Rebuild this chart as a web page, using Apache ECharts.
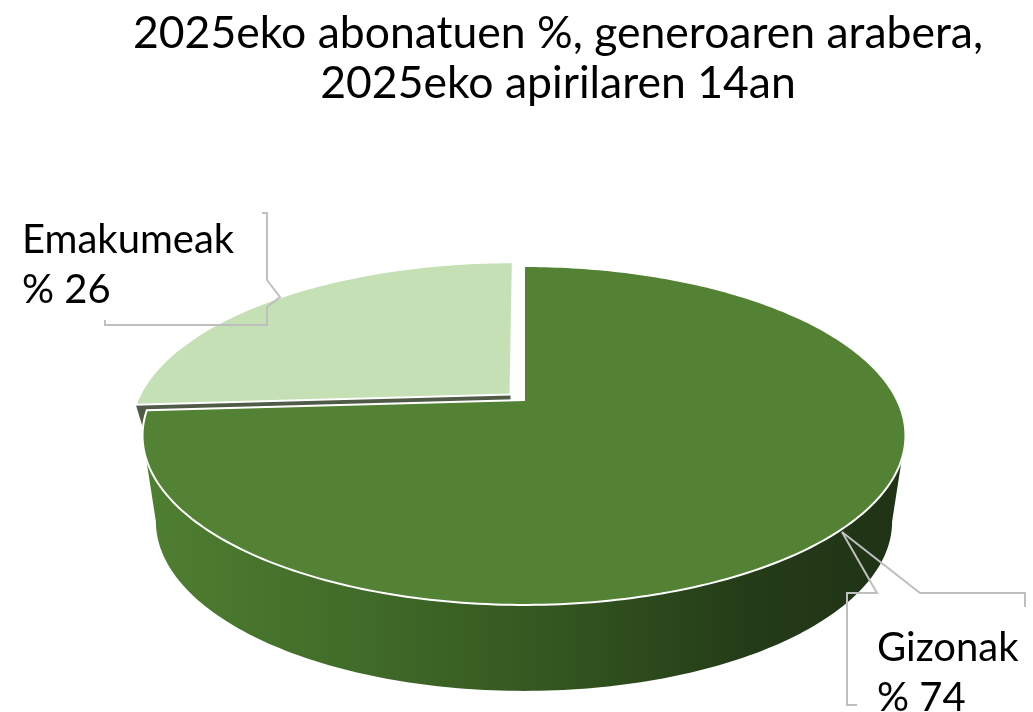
<!DOCTYPE html>
<html>
<head>
<meta charset="utf-8">
<script src="https://cdn.jsdelivr.net/npm/echarts@6/dist/echarts.min.js"></script>
<style>
html, body { margin: 0; padding: 0; background: #fff; }
#chart { width: 1033px; height: 712px; }
</style>
</head>
<body>
<div id="chart"></div>
<script>
// data (excel order: first slice starts at 12 o'clock, clockwise)
const categories = ['Gizonak', 'Emakumeak'];
const shares = [74, 26];
const titleText = '2025eko abonatuen %, generoaren arabera,\n2025eko apirilaren 14an';

// 3d look, excel style
const topColors = ['#548235', '#c5e0b4'];
const faceColors = ['#2c461c', '#4f5a47'];
const explode = [0, 0.05];
const CX = 524, CY = 400, RX = 373, RY = 162, PERSP = -0.2094, DEPTH = 86;
const BOTTOM_SHRINK = 0.965; // lower rim is a bit narrower (looking down)
const FACE_TAPER = 0.035;    // cut faces narrow towards the bottom
const FONT = 'Lato';

// label boxes (manual positions like in the workbook)
const labelPos = [[877, 623], [22, 215]];
const calloutLines = [
  [[[842, 532], [877, 593], [847, 593], [847, 705], [857, 705]],
   [[842, 532], [920, 593], [1025, 593], [1025, 607]]],
  [[[262, 213], [267, 213], [267, 280], [280, 297], [267, 307], [267, 325], [105, 325], [105, 320]]]
];

const total = shares.reduce((a, b) => a + b, 0);
const rad = d => d * Math.PI / 180;
// visible part of the outer wall (between left and right silhouette)
const phiR = Math.acos(PERSP) * 180 / Math.PI;
const phiL = 360 - phiR;

function proj(X, Y, h) {
  const s = 1 / (1 + PERSP * Y);
  const k = h ? BOTTOM_SHRINK : 1;
  return [CX + RX * X * s * k, CY + RY * Y * s + (h || 0)];
}

const wallFill = {
  type: 'linear', x: 145, y: 0, x2: 905, y2: 0, global: true,
  colorStops: [
    { offset: 0, color: '#4f7f31' },
    { offset: 0.3, color: '#406a28' },
    { offset: 0.55, color: '#335520' },
    { offset: 0.8, color: '#243b18' },
    { offset: 1, color: '#1f3315' }
  ]
};

function renderSlice(params, api) {
  const i = params.dataIndex;
  let start = 0;
  for (let k = 0; k < i; k++) start += shares[k] / total * 360;
  const end = start + api.value(0) / total * 360;
  const mid = rad((start + end) / 2);
  const ox = Math.sin(mid) * explode[i];
  const oy = -Math.cos(mid) * explode[i];

  const rim = (deg, h) => proj(ox + Math.sin(rad(deg)), oy - Math.cos(rad(deg)), h);
  const arc = (a, b, h) => {
    const pts = [];
    const n = Math.max(2, Math.ceil(Math.abs(b - a)));
    for (let j = 0; j <= n; j++) pts.push(rim(a + (b - a) * j / n, h));
    return pts;
  };
  const pivot = proj(ox, oy, 0);
  const pivotB = proj(ox, oy, DEPTH);
  const base = Math.round((1 - Math.cos(mid)) * 10);
  const children = [];

  const face = deg => {
    const rb = rim(deg, DEPTH);
    const corner = [rb[0] + (pivotB[0] - rb[0]) * FACE_TAPER, rb[1] + (pivotB[1] - rb[1]) * FACE_TAPER];
    return { type: 'polygon', z2: base + 1,
      shape: { points: [pivot, rim(deg, 0), corner, pivotB] },
      style: { fill: faceColors[i] } };
  };
  // cut faces
  if (Math.sin(rad(start)) < 0) children.push(face(start));
  if (Math.sin(rad(end)) > 0) children.push(face(end));
  // outer wall
  const a = Math.max(start, phiR), b = Math.min(end, phiL);
  if (b > a) {
    children.push({ type: 'polygon', z2: base + 2,
      shape: { points: arc(a, b, 0).concat(arc(b, a, DEPTH)) },
      style: { fill: i === 0 ? wallFill : '#8fae7a' } });
  }
  // top
  children.push({ type: 'polygon', z2: base + 3,
    shape: { points: [pivot].concat(arc(start, end, 0)) },
    style: { fill: topColors[i], stroke: '#ffffff', lineWidth: 2 } });

  return { type: 'group', children: children };
}

const graphics = [];
categories.forEach((name, i) => {
  calloutLines[i].forEach(pts => {
    graphics.push({ type: 'polyline', z: 10, shape: { points: pts },
      style: { stroke: '#bfbfbf', lineWidth: 2, fill: null } });
  });
  graphics.push({ type: 'text', z: 11, x: labelPos[i][0], y: labelPos[i][1],
    style: { text: name + '\n% ' + shares[i], fontFamily: FONT, fontSize: 40,
      lineHeight: 50, fill: '#000', verticalAlign: 'top' } });
});

const chart = echarts.init(document.getElementById('chart'));
chart.setOption({
  backgroundColor: '#fff',
  animation: false,
  title: {
    text: titleText,
    left: 553,
    top: 4,
    textAlign: 'center',
    textStyle: { fontFamily: FONT, fontSize: 44.5, fontWeight: 'normal', color: '#000', lineHeight: 50 }
  },
  graphic: graphics,
  series: [{
    type: 'custom',
    coordinateSystem: 'none',
    renderItem: renderSlice,
    data: shares.map((v, i) => ({ name: categories[i], value: [v] }))
  }]
});
</script>
</body>
</html>
